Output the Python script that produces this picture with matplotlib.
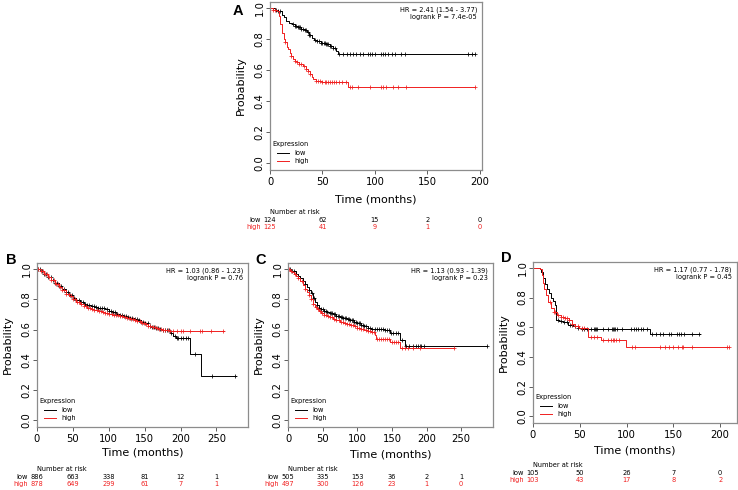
import numpy as np
import matplotlib
matplotlib.use('Agg')
import matplotlib.pyplot as plt
from matplotlib.transforms import blended_transform_factory, ScaledTranslation

plt.rcParams['font.family'] = 'DejaVu Sans'

# ---- panel A ----
a_low_t = [0, 5, 8, 11, 13, 15, 18, 21, 24, 27, 30, 33, 35, 37, 40, 42, 45, 49, 53, 57, 60, 63, 65]
a_low_s = [1.0, 0.99, 0.98, 0.955, 0.94, 0.92, 0.905, 0.895, 0.885, 0.877, 0.866, 0.856, 0.845, 0.83,
           0.81, 0.795, 0.785, 0.776, 0.766, 0.756, 0.74, 0.725, 0.707]
a_low_end = 195
a_low_cens = [6, 8, 10, 22, 24, 25, 27, 28, 29, 30, 31, 33, 34, 36, 37, 38, 43, 45, 47, 49, 50, 51, 52, 53,
              54, 55, 57, 58, 60, 62, 66, 70, 73, 76, 79, 82, 86, 89, 93, 95, 97, 100, 106, 108, 110, 112,
              116, 119, 125, 129, 189, 192, 195]
a_high_t = [0, 3, 7, 9, 10, 11, 13, 14, 16, 17, 19, 20, 22, 23.5, 26, 28, 31, 34, 36, 38, 40, 41, 44, 50, 74]
a_high_s = [1.0, 0.99, 0.98, 0.95, 0.9, 0.84, 0.80, 0.78, 0.75, 0.735, 0.71, 0.69, 0.675, 0.66, 0.65, 0.64,
            0.625, 0.61, 0.595, 0.575, 0.555, 0.543, 0.528, 0.522, 0.494]
a_high_end = 195
a_high_cens = [3, 5, 14, 20, 24, 26, 28, 30, 32, 34, 36, 38, 44, 46, 48, 50, 52, 53, 55, 57, 59, 61, 63, 66,
               69, 72, 76, 78, 84, 95, 106, 108, 111, 117, 122, 130, 195]
a_ticks = [0, 50, 100, 150, 200]
a_risk_low = [124, 62, 15, 2, 0]
a_risk_high = [125, 41, 9, 1, 0]
a_hr = ['HR = 2.41 (1.54 - 3.77)', 'logrank P = 7.4e-05']

# ---- panel B ----
b_low_t = [0, 5, 10, 15, 20, 25, 30, 35, 40, 45, 50, 55, 60, 65, 70, 75, 80, 85, 90, 95, 100, 105, 110,
           115, 120, 125, 130, 135, 140, 145, 150, 155, 160, 165, 170, 175, 180, 185, 190, 193, 213, 228]
b_low_s = [1.0, 0.985, 0.97, 0.95, 0.93, 0.91, 0.885, 0.865, 0.845, 0.83, 0.81, 0.795, 0.78, 0.77, 0.76,
           0.755, 0.75, 0.745, 0.74, 0.735, 0.725, 0.715, 0.705, 0.698, 0.69, 0.685, 0.675, 0.668, 0.66,
           0.65, 0.64, 0.625, 0.615, 0.61, 0.605, 0.60, 0.595, 0.58, 0.56, 0.545, 0.435, 0.29]
b_low_end = 277
b_low_cens = [1, 4, 7, 10, 13, 16, 19, 22, 25, 28, 31, 34, 37, 40, 43, 46, 49, 52, 55, 58, 61, 64, 67, 70,
              73, 76, 79, 82, 85, 88, 91, 94, 97, 100, 103, 106, 109, 112, 115, 118, 121, 124, 127, 130,
              133, 136, 139, 142, 145, 148, 151, 154, 157, 160, 163, 166, 169, 172, 175, 178, 181, 184,
              187, 192, 195, 197, 200, 203, 207, 210, 220, 244, 276]
b_high_t = [0, 5, 10, 15, 20, 25, 30, 35, 40, 45, 50, 55, 60, 65, 70, 75, 80, 85, 90, 95, 100, 105, 110,
            115, 120, 125, 130, 135, 140, 145, 150, 155, 160, 165, 170, 175, 180, 185]
b_high_s = [1.0, 0.985, 0.965, 0.945, 0.925, 0.903, 0.88, 0.86, 0.838, 0.82, 0.80, 0.785, 0.77, 0.755,
            0.745, 0.735, 0.728, 0.72, 0.714, 0.708, 0.703, 0.698, 0.693, 0.688, 0.683, 0.678, 0.672,
            0.664, 0.655, 0.645, 0.635, 0.625, 0.617, 0.61, 0.605, 0.60, 0.595, 0.59]
b_high_end = 260
b_high_cens = [2, 5, 8, 11, 14, 17, 20, 23, 26, 29, 32, 35, 38, 41, 44, 47, 50, 53, 56, 59, 62, 65, 68, 71,
               74, 77, 80, 83, 86, 89, 92, 95, 98, 101, 104, 107, 110, 113, 116, 119, 122, 125, 128, 131,
               134, 137, 140, 143, 146, 149, 152, 155, 158, 161, 164, 167, 170, 173, 176, 179, 182, 185,
               190, 195, 200, 204, 213, 227, 230, 242, 259]
b_ticks = [0, 50, 100, 150, 200, 250]
b_risk_low = [886, 663, 338, 81, 12, 1]
b_risk_high = [878, 649, 299, 61, 7, 1]
b_hr = ['HR = 1.03 (0.86 - 1.23)', 'logrank P = 0.76']

# ---- panel C ----
c_low_t = [0, 4, 8, 12, 15, 18, 21, 24, 27, 30, 33, 36, 39, 42, 45, 48, 52, 56, 60, 65, 70, 75, 80, 85,
           90, 95, 100, 105, 110, 115, 120, 140, 147, 162, 169]
c_low_s = [1.0, 0.99, 0.985, 0.97, 0.955, 0.94, 0.92, 0.90, 0.88, 0.86, 0.84, 0.81, 0.78, 0.76, 0.745,
           0.735, 0.725, 0.715, 0.71, 0.70, 0.69, 0.683, 0.676, 0.668, 0.66, 0.652, 0.642, 0.633, 0.623,
           0.613, 0.605, 0.598, 0.577, 0.53, 0.49]
c_low_end = 287
c_low_cens = [3, 6, 8, 12, 18, 24, 30, 35, 38, 42, 45, 48, 50, 52, 55, 57, 60, 62, 64, 66, 68, 70, 72, 74,
              76, 78, 80, 82, 84, 86, 88, 90, 92, 94, 96, 98, 100, 102, 104, 106, 108, 110, 113, 116, 119,
              122, 125, 128, 131, 134, 137, 140, 143, 146, 149, 152, 156, 159, 165, 170, 175, 180, 185,
              188, 190, 192, 197, 287]
c_high_t = [0, 3, 6, 9, 12, 15, 18, 21, 24, 27, 30, 33, 36, 39, 42, 45, 48, 52, 56, 60, 65, 70, 75, 80,
            85, 90, 95, 100, 105, 110, 115, 120, 125, 127, 147, 162]
c_high_s = [1.0, 0.99, 0.98, 0.97, 0.955, 0.94, 0.92, 0.895, 0.87, 0.845, 0.825, 0.80, 0.77, 0.75, 0.735,
            0.72, 0.708, 0.698, 0.69, 0.68, 0.67, 0.66, 0.652, 0.643, 0.635, 0.628, 0.62, 0.61, 0.603,
            0.596, 0.59, 0.585, 0.565, 0.54, 0.515, 0.478]
c_high_end = 239
c_high_cens = [2, 5, 10, 15, 20, 25, 30, 33, 36, 40, 43, 46, 49, 52, 55, 58, 61, 64, 67, 70, 73, 76, 79,
               82, 85, 88, 91, 94, 97, 100, 103, 106, 109, 112, 115, 118, 121, 124, 128, 131, 134, 137,
               140, 143, 146, 150, 153, 156, 159, 164, 169, 173, 180, 190, 239]
c_ticks = [0, 50, 100, 150, 200, 250]
c_risk_low = [505, 335, 153, 36, 2, 1]
c_risk_high = [497, 300, 126, 23, 1, 0]
c_hr = ['HR = 1.13 (0.93 - 1.39)', 'logrank P = 0.23']

# ---- panel D ----
d_low_t = [0, 7, 9, 11, 13, 15, 17, 19, 21, 23, 25, 28, 32, 37, 43, 48, 52, 125]
d_low_s = [1.0, 0.99, 0.97, 0.935, 0.89, 0.86, 0.83, 0.80, 0.776, 0.753, 0.652, 0.64, 0.634, 0.618, 0.607,
           0.596, 0.59, 0.555]
d_low_end = 178
d_low_cens = [27, 30, 33, 36, 40, 42, 45, 48, 52, 55, 58, 62, 65, 66, 67, 68, 75, 80, 84, 86, 87, 88, 90,
              95, 105, 108, 110, 112, 115, 118, 122, 127, 131, 136, 139, 145, 148, 154, 156, 158, 161,
              170, 177]
d_high_t = [0, 8, 10, 11, 12, 14, 16, 19, 22, 26, 30, 34, 38, 42, 45, 49, 59, 73, 99]
d_high_s = [1.0, 0.99, 0.95, 0.90, 0.86, 0.82, 0.77, 0.73, 0.70, 0.685, 0.67, 0.66, 0.65, 0.625, 0.61,
            0.595, 0.535, 0.515, 0.47]
d_high_end = 209
d_high_cens = [18, 22, 24, 27, 30, 32, 34, 36, 39, 42, 45, 48, 52, 55, 62, 65, 68, 75, 80, 83, 85, 87, 89,
               92, 106, 109, 136, 141, 145, 150, 155, 159, 160, 170, 207, 209]
d_ticks = [0, 50, 100, 150, 200]
d_risk_low = [105, 50, 26, 7, 0]
d_risk_high = [103, 43, 17, 8, 2]
d_hr = ['HR = 1.17 (0.77 - 1.78)', 'logrank P = 0.45']

W, H = 738, 490
fig = plt.figure(figsize=(W / 100, H / 100), dpi=100)

GRAY = '#8c8c8c'
RED = '#f02020'


def px_off(dx, dy):
    # shift by pixels
    return ScaledTranslation(dx / fig.dpi, dy / fig.dpi, fig.dpi_scale_trans)


def km(ax, t, s, end, cens, color):
    x = list(t) + [end]
    y = list(s) + [s[-1]]
    ax.step(x, y, where='post', color=color, lw=0.7)
    idx = np.searchsorted(np.array(t), np.array(cens), side='right') - 1
    ys = np.array(s)[idx]
    ax.plot(cens, ys, '+', color=color, ms=3.2, mew=0.55, ls='none')


def panel(box, xmax, letter, letter_xy, low, high, ticks, risk_low, risk_high, hr, xlab_off):
    l, t, r, b = box
    ax = fig.add_axes([l / W, 1 - b / H, (r - l) / W, (b - t) / H])
    km(ax, *low, 'black')
    km(ax, *high, RED)
    ax.set_xlim(0, xmax)
    ax.set_ylim(-0.045, 1.04)
    ax.set_xticks(ticks)
    ax.set_yticks([0, 0.2, 0.4, 0.6, 0.8, 1.0])
    ax.set_yticklabels(['0.0', '0.2', '0.4', '0.6', '0.8', '1.0'])
    for sp in ax.spines.values():
        sp.set_color(GRAY)
        sp.set_linewidth(0.9)
    ax.tick_params(direction='out', length=2.8, width=0.6, color='#444444', labelsize=7.2, pad=2.3)
    ax.tick_params(axis='y', pad=1.2)
    for lab in ax.get_yticklabels():
        lab.set_rotation(90)
        lab.set_va('center')
        lab.set_ha('right')
    axw = r - l
    axh = b - t
    ax.set_xlabel('Time (months)', fontsize=8)
    ax.xaxis.set_label_coords(0.5, -xlab_off / axh)
    ax.set_ylabel('Probability', fontsize=8)
    ax.yaxis.set_label_coords(-24 / axw, 0.5)

    # hazard ratio text
    ax.text(1, 1, hr[0], transform=ax.transAxes + px_off(-5, -8), ha='right', va='center', fontsize=4.8)
    ax.text(1, 1, hr[1], transform=ax.transAxes + px_off(-5, -15), ha='right', va='center', fontsize=4.8)

    # legend drawn by hand
    tr = ax.transAxes
    ax.text(0, 0, 'Expression', transform=tr + px_off(2, 26), ha='left', va='center', fontsize=4.8)
    for i, (name, col) in enumerate([('low', 'black'), ('high', RED)]):
        line_y = 17 - i * 8
        ln = plt.Line2D([7 / axw, 19 / axw], [line_y / axh, line_y / axh], transform=tr, color=col, lw=0.7)
        ax.add_line(ln)
        ax.text(0, 0, name, transform=tr + px_off(24, line_y), ha='left', va='center', fontsize=4.8)

    # number at risk table
    bt = blended_transform_factory(ax.transData, ax.transAxes)
    ax.text(0, 0, 'Number at risk', transform=bt + px_off(0, -42), ha='left', va='center', fontsize=4.8)
    ax.text(0, 0, 'low', transform=bt + px_off(-9, -49.5), ha='right', va='center', fontsize=4.8)
    ax.text(0, 0, 'high', transform=bt + px_off(-9, -57), ha='right', va='center', fontsize=4.8,
            color=RED)
    for xv, nl, nh in zip(ticks, risk_low, risk_high):
        ax.text(xv, 0, str(nl), transform=bt + px_off(0, -49.5), ha='center', va='center',
                fontsize=4.8)
        ax.text(xv, 0, str(nh), transform=bt + px_off(0, -57), ha='center', va='center',
                fontsize=4.8, color=RED)

    fig.text(letter_xy[0] / W, 1 - letter_xy[1] / H, letter, fontsize=10.5, fontweight='bold',
             family='Liberation Sans', ha='center', va='center')
    return ax


panel((270, 2, 482, 170), 202, 'A', (238, 11),
      (a_low_t, a_low_s, a_low_end, a_low_cens), (a_high_t, a_high_s, a_high_end, a_high_cens),
      a_ticks, a_risk_low, a_risk_high, a_hr, 25)
panel((37, 263, 248, 427), 294, 'B', (11, 260),
      (b_low_t, b_low_s, b_low_end, b_low_cens), (b_high_t, b_high_s, b_high_end, b_high_cens),
      b_ticks, b_risk_low, b_risk_high, b_hr, 20)
panel((288, 263, 493, 427), 296, 'C', (260.5, 260),
      (c_low_t, c_low_s, c_low_end, c_low_cens), (c_high_t, c_high_s, c_high_end, c_high_cens),
      c_ticks, c_risk_low, c_risk_high, c_hr, 22)
panel((533, 262, 737, 423), 218, 'D', (506.5, 258.5),
      (d_low_t, d_low_s, d_low_end, d_low_cens), (d_high_t, d_high_s, d_high_end, d_high_cens),
      d_ticks, d_risk_low, d_risk_high, d_hr, 22)

fig.savefig('out.png', dpi=100)
